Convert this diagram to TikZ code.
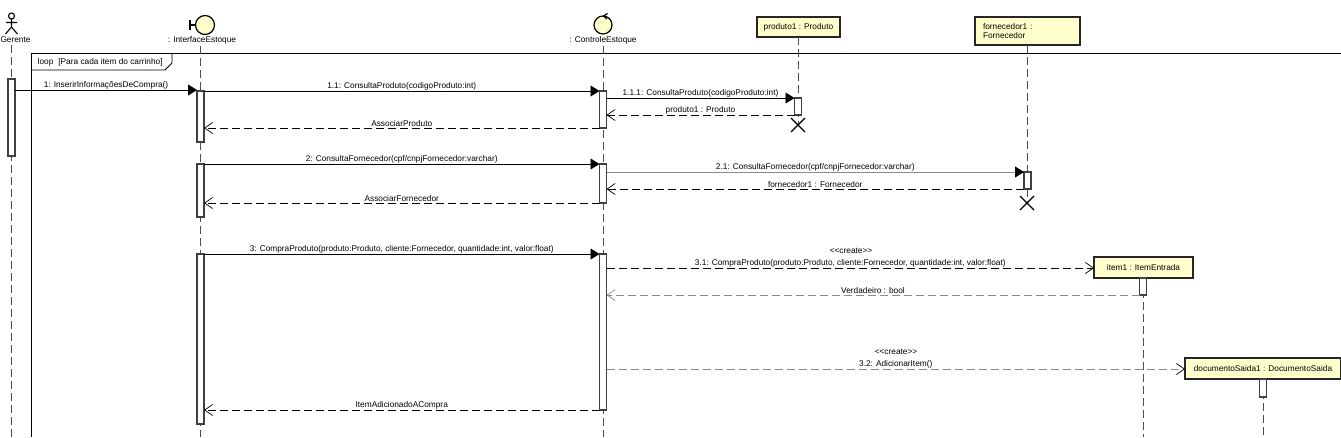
\documentclass[tikz,border=0pt]{standalone}
\usepackage{fontspec}
\setmainfont{Liberation Sans}
\usetikzlibrary{arrows.meta}
\definecolor{umlfill}{HTML}{FFFFCC}
\definecolor{umlgray}{HTML}{8A8A8A}
\tikzset{
	objbox/.style={draw=black!85, line width=1.5pt, fill=umlfill, inner sep=0pt, outer sep=0pt, anchor=north west},
	iconlabel/.style={inner sep=0pt},
	lifeline/.style={draw=black!70, line width=0.8pt, dash pattern=on 8pt off 4pt},
	actbar/.style={draw=black!75, line width=1.1pt, fill=white, minimum width=7pt, inner sep=0pt, outer sep=0pt, anchor=north},
	callmsg/.style={-{Triangle[length=9pt,width=11pt,color=black]}, line width=0.9pt},
	createmsg/.style={-{Straight Barb[length=8pt,width=11pt,line width=0.7pt,color=black]}, line width=0.9pt, dash pattern=on 8pt off 4pt},
	returnmsg/.style={-{Straight Barb[length=8pt,width=11pt,line width=0.7pt]}, line width=0.9pt, dash pattern=on 8pt off 4pt},
	msglabel/.style={midway, above, inner sep=0.5pt},
	killmark/.style={line width=1.3pt}
}
\begin{document}
\begin{tikzpicture}[x=1pt, y=-1pt, font=\fontsize{8.3}{9.8}\selectfont]
	\useasboundingbox (0,0) rectangle (1341,437);

	% Loop frame
	\draw[line width=0.9pt] (31,437) -- (31,53) -- (1341,53);
	\draw[line width=0.9pt] (31,70) -- (165,70) -- (172,63) -- (172,53);
	\node[iconlabel, anchor=west] (loopLbl) at (37.5,62) {loop\hspace{5pt}[Para cada item do carrinho]};

	% Heads
	\node[iconlabel] (lblGer) at (15.5,40) {Gerente};
	\node[iconlabel] (lblInt) at (202,40) {: InterfaceEstoque};
	\node[iconlabel] (lblCtl) at (603,40) {: ControleEstoque};
	\node[objbox, minimum width=83pt, minimum height=20pt] (boxProd) at (757,17) {produto1 : Produto};
	\node[objbox, minimum width=105pt, minimum height=28pt, align=left, text width=89pt, inner xsep=8pt] (boxForn) at (975,17) {fornecedor1 :\\Fornecedor};
	\node[objbox, minimum width=99pt, minimum height=21pt] (boxItem) at (1094,257) {item1 : ItemEntrada};
	\node[objbox, minimum width=156pt, minimum height=21pt] (boxDoc) at (1185,358) {documentoSaida1 : DocumentoSaida};

	% Icons
	\draw[line width=1.1pt] (11.5,16) circle (3) (11.5,19) -- (11.5,27) (6,22.5) -- (17,22.5) (5.5,34) -- (11.5,27) -- (17.5,34);
	\node[circle, draw, line width=1.2pt, fill=umlfill, minimum size=19pt, inner sep=0pt] (iconInt) at (205,25) {};
	\draw[line width=1.2pt] (iconInt.west) -- (190,25) (190,20) -- (190,30);
	\node[circle, draw, line width=1.2pt, fill=umlfill, minimum size=18pt, inner sep=0pt] (iconCtl) at (603,25) {};
	\draw[line width=1.2pt] (603.5,16) -- (607.5,13.5) (603.5,16) -- (607,19);

	% Lifelines
	\coordinate (endGer) at (11.5,437);
	\coordinate (endInt) at (200.5,437);
	\coordinate (endCtl) at (603,437);
	\coordinate (endItem) at (1143,437);
	\coordinate (endDoc) at (1263,437);
	\coordinate (endProd) at (798,125);
	\coordinate (endForn) at (1027,203);
	\draw[lifeline] (lblGer.south -| endGer) ++(0,2) -- (endGer);
	\draw[lifeline] (lblInt.south -| endInt) ++(0,2) -- (endInt);
	\draw[lifeline] (lblCtl.south -| endCtl) ++(0,2) -- (endCtl);
	\draw[lifeline] (boxProd.south -| endProd) -- (endProd);
	\draw[lifeline] (boxForn.south -| endForn) -- (endForn);
	\draw[lifeline] (boxItem.south -| endItem) -- (endItem);
	\draw[lifeline] (boxDoc.south -| endDoc) -- (endDoc);

	% Activation bars
	\node[actbar, minimum height=77pt] (barG) at (11.5,79) {};
	\node[actbar, minimum height=51pt] (barI1) at (200.5,91) {};
	\node[actbar, minimum height=53pt] (barI2) at (200.5,164) {};
	\node[actbar, minimum height=170pt] (barI3) at (200.5,254) {};
	\node[actbar, minimum height=37pt] (barC1) at (603,91) {};
	\node[actbar, minimum height=39pt] (barC2) at (603,164) {};
	\node[actbar, minimum height=156pt] (barC3) at (603,254) {};
	\node[actbar, minimum height=17pt] (barP) at (798,98) {};
	\node[actbar, minimum height=17pt] (barF) at (1027.5,172) {};
	\node[actbar, minimum height=17pt] (barT) at (1143,278) {};
	\node[actbar, minimum height=18pt] (barD) at (1263,379) {};

	% First group
	\draw[callmsg] ([yshift=-11pt]barG.north east) -- ([yshift=1pt]barI1.north west) node[msglabel] (m1) {1: InserirInformaçõesDeCompra()};
	\draw[callmsg] (barI1.north east) -- (barC1.north west) node[msglabel] (m11) {1.1: ConsultaProduto(codigoProduto:int)};
	\draw[callmsg] ([yshift=-7pt]barC1.north east) -- (barP.north west) node[msglabel] (m111) {1.1.1: ConsultaProduto(codigoProduto:int)};
	\draw[returnmsg] (barP.south west) -- ([yshift=-24pt]barC1.north east) node[msglabel] (r111) {produto1 : Produto};
	\draw[returnmsg] (barC1.south west) -- ([yshift=-37pt]barI1.north east) node[msglabel] (r11) {AssociarProduto};
	\draw[killmark] (endProd) ++(-7,-7) -- ++(14,14) ++(-14,0) -- ++(14,-14);

	% Second group
	\draw[callmsg] (barI2.north east) -- (barC2.north west) node[msglabel] (m2) {2: ConsultaFornecedor(cpf/cnpjFornecedor:varchar)};
	\draw[callmsg, draw=umlgray] ([yshift=-8pt]barC2.north east) -- (barF.north west) node[msglabel, text=black] (m21) {2.1: ConsultaFornecedor(cpf/cnpjFornecedor:varchar)};
	\draw[returnmsg] (barF.south west) -- ([yshift=-25pt]barC2.north east) node[msglabel] (r21) {fornecedor1 : Fornecedor};
	\draw[returnmsg] (barC2.south west) -- ([yshift=-39pt]barI2.north east) node[msglabel] (r2) {AssociarFornecedor};
	\draw[killmark] (endForn) ++(-7,-7) -- ++(14,14) ++(-14,0) -- ++(14,-14);

	% Third group
	\draw[callmsg] (barI3.north east) -- (barC3.north west) node[msglabel] (m3) {3: CompraProduto(produto:Produto, cliente:Fornecedor, quantidade:int, valor:float)};
	\draw[createmsg] ([yshift=-14pt]barC3.north east) -- (boxItem.west |- 0,268) node[msglabel] (m31) {3.1: CompraProduto(produto:Produto, cliente:Fornecedor, quantidade:int, valor:float)};
	\node[iconlabel] (st31) at (851,251) {<{}<create>{}>};
	\draw[returnmsg, draw=umlgray] (barT.south west) -- ([yshift=-41pt]barC3.north east) node[msglabel, text=black] (r31) {Verdadeiro : bool};
	\draw[createmsg, draw=umlgray] ([yshift=-115pt]barC3.north east) -- (boxDoc.west |- 0,369) node[msglabel, text=black] (m32) {3.2: AdicionarItem()};
	\node[iconlabel] (st32) at (896,352) {<{}<create>{}>};
	\draw[returnmsg] (barC3.south west) -- ([yshift=-156pt]barI3.north east) node[msglabel] (r3) {ItemAdicionadoACompra};
\end{tikzpicture}
\end{document}
